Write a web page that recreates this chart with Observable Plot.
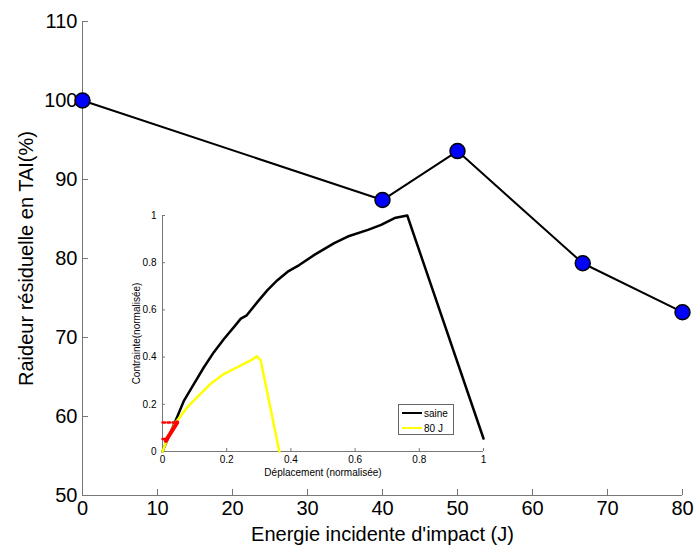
<!DOCTYPE html>
<html>
<head>
<meta charset="utf-8">
<script src="https://cdn.jsdelivr.net/npm/d3@7"></script>
<script src="https://cdn.jsdelivr.net/npm/@observablehq/plot@0.6"></script>
<style>
  html, body { margin:0; padding:0; background:#fff; }
  #wrap { position:relative; width:695px; height:547px; font-family:'Liberation Sans', Arial, sans-serif; }
  #wrap svg { position:absolute; }
  #legend { position:absolute; left:398px; top:404px; width:56px; height:31px; border:1px solid #666; background:#fff;
            font-size:10px; font-family:'Liberation Sans', Arial, sans-serif; box-sizing:border-box; }
  .lg { display:flex; align-items:center; height:14px; margin-top:1px; }
  .sw { width:20px; height:0; border-top:2.5px solid; margin:0 2px 0 3px; }
</style>
</head>
<body>
<div id="wrap"></div>
<script>
// Main chart data
const energy = [0, 40, 50, 66.7, 80];
const stiffness = [100, 87.4, 93.6, 79.4, 73.2];
const mainXTicks = [0, 10, 20, 30, 40, 50, 60, 70, 80];
const mainYTicks = [50, 60, 70, 80, 90, 100, 110];

// Inset data: normalized stress vs displacement
const saineX = [0, 0.02, 0.041, 0.067, 0.098, 0.129, 0.160, 0.192, 0.223, 0.244, 0.2625, 0.296, 0.327, 0.358, 0.39, 0.426, 0.473, 0.535, 0.577, 0.64, 0.681, 0.723, 0.7625, 1.0];
const saineY = [0, 0.066, 0.131, 0.216, 0.287, 0.357, 0.421, 0.478, 0.528, 0.563, 0.577, 0.634, 0.684, 0.726, 0.762, 0.79, 0.833, 0.883, 0.911, 0.939, 0.96, 0.989, 1.0, 0.055];
const j80X = [0, 0.02, 0.041, 0.077, 0.108, 0.15, 0.192, 0.233, 0.275, 0.294, 0.306, 0.364];
const j80Y = [0, 0.07, 0.123, 0.187, 0.23, 0.287, 0.329, 0.357, 0.386, 0.403, 0.386, 0];
// red dotted guide lines and red highlighted initial slope
const redGuideX = [0, 0.044, 0, 0.016];
const redGuideY = [0.123, 0.123, 0.053, 0.053];
const redGuideSeg = ["a", "a", "b", "b"];
const redSlopeX = [0.01, 0.046];
const redSlopeY = [0.045, 0.123];
const insetTicks = [0, 0.2, 0.4, 0.6, 0.8, 1];

const mainData = energy.map((e, i) => ({e, s: stiffness[i]}));
const saine = saineX.map((x, i) => ({x, y: saineY[i]}));
const j80 = j80X.map((x, i) => ({x, y: j80Y[i]}));
const redGuide = redGuideX.map((x, i) => ({x, y: redGuideY[i], z: redGuideSeg[i]}));
const redSlope = redSlopeX.map((x, i) => ({x, y: redSlopeY[i]}));

const font = "'Liberation Sans', Arial, sans-serif";
const axisGray = "#777";

const main = Plot.plot({
  width: 695, height: 547,
  marginLeft: 82, marginRight: 13, marginTop: 21, marginBottom: 52,
  style: {fontFamily: font, fontSize: "20px", color: "#000", background: "transparent", overflow: "visible"},
  x: {domain: [0, 80]},
  y: {domain: [50, 110]},
  marks: [
    Plot.ruleX([0], {stroke: axisGray}),
    Plot.ruleY([50], {stroke: axisGray}),
    Plot.tickX(mainXTicks, {x: d => d, stroke: axisGray, insetTop: 474 - 6}),
    Plot.tickY(mainYTicks, {y: d => d, stroke: axisGray, insetRight: 600 - 6}),
    Plot.axisX(mainXTicks, {tickSize: 0, tickPadding: 5, label: "Energie incidente d'impact (J)", labelAnchor: "center", labelOffset: 45, labelArrow: "none", fill: "#000"}),
    Plot.axisY(mainYTicks, {tickSize: 0, tickPadding: 5, label: "Raideur résiduelle en TAI(%)", labelAnchor: "center", labelOffset: 64, labelArrow: "none", fill: "#000"}),
    Plot.line(mainData, {x: "e", y: "s", stroke: "#000", strokeWidth: 2}),
    Plot.dot(mainData, {x: "e", y: "s", r: 7.5, fill: "#0000ff", stroke: "#000", strokeWidth: 1.5})
  ]
});

const inset = Plot.plot({
  width: 400, height: 280,
  marginLeft: 62, marginRight: 17, marginTop: 15, marginBottom: 29,
  style: {fontFamily: font, fontSize: "11px", color: "#000", background: "transparent", overflow: "visible"},
  x: {domain: [0, 1]},
  y: {domain: [0, 1]},
  marks: [
    Plot.ruleX([0], {stroke: axisGray}),
    Plot.ruleY([0], {stroke: axisGray}),
    Plot.tickX(insetTicks, {x: d => d, stroke: axisGray, insetTop: 236 - 3}),
    Plot.tickY(insetTicks, {y: d => d, stroke: axisGray, insetRight: 321 - 3}),
    Plot.axisX(insetTicks, {tickSize: 0, tickPadding: 4, tickFormat: d => String(d), label: "Déplacement (normalisée)", labelAnchor: "center", labelOffset: 24, labelArrow: "none", fontSize: 10}),
    Plot.axisY(insetTicks, {tickSize: 0, tickPadding: 6, tickFormat: d => String(d), label: "Contrainte(normalisée)", labelAnchor: "center", labelOffset: 30, labelArrow: "none", fontSize: 10}),
    Plot.line(saine, {x: "x", y: "y", stroke: "#000", strokeWidth: 2.5}),
    Plot.line(j80, {x: "x", y: "y", stroke: "#ffff00", strokeWidth: 2.5}),
    Plot.line(redGuide, {x: "x", y: "y", z: "z", stroke: "#ff0000", strokeWidth: 2.5, strokeDasharray: "2.5,2.5"}),
    Plot.line(redSlope, {x: "x", y: "y", stroke: "#ff0000", strokeWidth: 4})
  ]
});

const wrap = document.getElementById("wrap");
main.style.left = "0px"; main.style.top = "0px";
inset.style.left = "100px"; inset.style.top = "200px";
wrap.appendChild(main);
wrap.appendChild(inset);

const legend = document.createElement("div");
legend.id = "legend";
const items = [["saine", "#000"], ["80 J", "#ffff00"]];
items.forEach(([t, c]) => {
  const row = document.createElement("div");
  row.className = "lg";
  const sw = document.createElement("span");
  sw.className = "sw"; sw.style.borderTopColor = c;
  const tx = document.createElement("span");
  tx.textContent = t;
  row.appendChild(sw); row.appendChild(tx);
  legend.appendChild(row);
});
wrap.appendChild(legend);
</script>
</body>
</html>
